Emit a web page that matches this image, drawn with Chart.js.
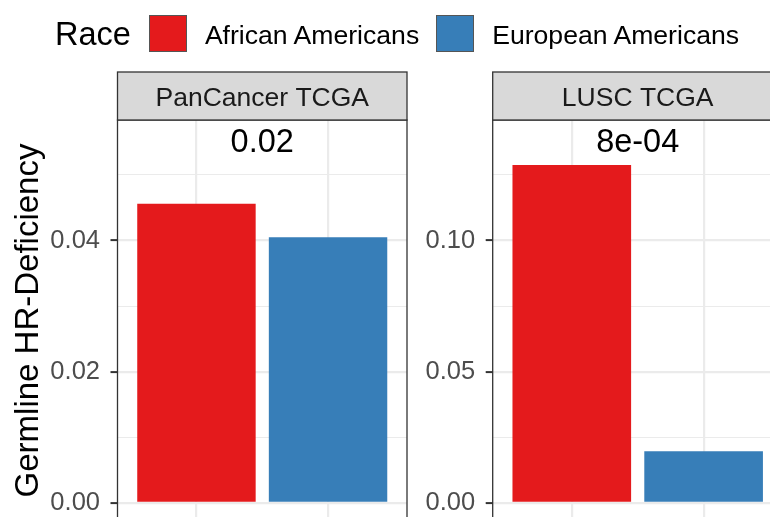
<!DOCTYPE html>
<html>
<head>
<meta charset="utf-8">
<script src="https://cdn.jsdelivr.net/npm/chart.js@4.4.1/dist/chart.umd.min.js"></script>
<style>
  html, body { margin: 0; padding: 0; background: #fff; }
  #wrap { position: relative; width: 770px; height: 517px; overflow: hidden; background: #fff;
          font-family: 'Liberation Sans', Arial, Helvetica, sans-serif; }
  #legend { position: absolute; left: 55px; top: 15px; height: 37px; display: flex; align-items: center; white-space: nowrap; }
  #legend .ttl { font-size: 32.5px; color: #000; margin-right: 18px; position: relative; top: 1px; }
  #legend .key { width: 38px; height: 37px; box-sizing: border-box; border: 1px solid #555; margin-right: 18px; }
  #legend .lab { font-size: 26.6px; color: #000; margin-right: 17px; position: relative; top: 2px; }
  #boxA { position: absolute; left: 0; top: 0; }
  #boxB { position: absolute; left: 410px; top: 0; }
</style>
</head>
<body>
<div id="wrap">
  <canvas id="boxA" width="415" height="560"></canvas>
  <canvas id="boxB" width="400" height="560"></canvas>
  <div id="legend"></div>
</div>
<script>
// Germline HR-deficiency rate by race, two facets
const races = ['African Americans', 'European Americans'];
const raceColors = ['#E41A1C', '#377EB8'];
const panels = ['PanCancer TCGA', 'LUSC TCGA'];
const panCancerHRD = [0.0456, 0.0405];
const luscHRD = [0.1288, 0.0196];
const pValues = ['0.02', '8e-04'];
const pLabelY = [0.0556, 0.139];
const panCancerTicks = ['0.00', '0.02', '0.04'];
const luscTicks = ['0.00', '0.05', '0.10'];

const FONT = "'Liberation Sans', Arial, Helvetica, sans-serif";

// legend
const legend = document.getElementById('legend');
legend.innerHTML = '<span class="ttl">Race</span>' + races.map((r, i) =>
  `<span class="key" style="background:${raceColors[i]}"></span><span class="lab">${r}</span>`).join('');

// facet strip, panel border and p-value label
const facetPlugin = {
  id: 'facet',
  afterDraw(chart, args, o) {
    const { ctx, chartArea: a, scales } = chart;
    const w = a.right - a.left;
    ctx.save();
    ctx.font = `32.5px ${FONT}`;
    ctx.fillStyle = '#000';
    ctx.textAlign = 'center';
    ctx.textBaseline = 'alphabetic';
    ctx.fillText(o.pValue, scales.x.getPixelForValue(1.5), scales.y.getPixelForValue(o.labelY) + 13.7);

    ctx.strokeStyle = '#333333';
    ctx.lineWidth = 1.3;
    ctx.strokeRect(a.left, a.top, w, a.bottom - a.top);

    const h = 48;
    ctx.fillStyle = '#D9D9D9';
    ctx.fillRect(a.left, a.top - h, w, h);
    ctx.strokeRect(a.left, a.top - h, w, h);
    ctx.fillStyle = '#1A1A1A';
    ctx.font = `26.5px ${FONT}`;
    ctx.fillText(o.strip, a.left + w / 2, a.top - 14);
    ctx.restore();
  }
};

function makeChart(id, values, tickLabels, labelY, strip, pValue, showTitle, yWidth, padRight) {
  const majors = tickLabels.map(Number);
  const step = majors[1] - majors[0];
  const tickVals = [];
  for (let i = 0; i < majors.length * 2; i++) tickVals.push(+(i * step / 2).toFixed(5));

  return new Chart(document.getElementById(id), {
    type: 'bar',
    data: {
      datasets: [{
        label: 'Germline HR-Deficiency',
        data: races.map((r, i) => ({ x: i + 1, y: values[i] })),
        backgroundColor: raceColors,
        borderWidth: 0,
        barPercentage: 0.9,
        categoryPercentage: 1.0
      }]
    },
    options: {
      responsive: false,
      animation: false,
      layout: { autoPadding: false, padding: { left: 0, top: 120, right: padRight, bottom: 39 } },
      plugins: {
        legend: { display: false },
        tooltip: { enabled: false },
        facet: { strip, pValue, labelY }
      },
      scales: {
        x: {
          type: 'linear',
          min: 0.4,
          max: 2.6,
          offset: false,
          border: { display: false },
          ticks: { display: false },
          grid: { color: '#EBEBEB', lineWidth: 2.2, drawTicks: false, offset: false },
          afterBuildTicks: s => { s.ticks = [{ value: 1 }, { value: 2 }]; },
          afterFit: s => { s.height = 0; }
        },
        y: {
          min: -0.05 * labelY,
          max: 1.05 * labelY,
          border: { display: false },
          afterBuildTicks: s => { s.ticks = tickVals.map(v => ({ value: v })); },
          afterFit: s => { s.width = yWidth; },
          ticks: {
            autoSkip: false,
            padding: 10.5,
            color: '#4D4D4D',
            font: { family: FONT, size: 25.5 },
            callback: (v, i) => (i % 2 === 0 ? tickLabels[i / 2] : '')
          },
          grid: {
            color: '#EBEBEB',
            lineWidth: c => (c.index % 2 === 0 ? 2.2 : 1.1),
            drawTicks: true,
            tickLength: 7,
            tickWidth: 2,
            tickColor: c => (c.index % 2 === 0 ? '#333333' : 'rgba(0,0,0,0)')
          },
          title: {
            display: showTitle,
            text: 'Germline HR-Deficiency',
            color: '#000',
            font: { family: FONT, size: 33 },
            padding: { top: 9, bottom: 0 }
          }
        }
      }
    },
    plugins: [facetPlugin]
  });
}

makeChart('boxA', panCancerHRD, panCancerTicks, pLabelY[0], panels[0], pValues[0], true, 117.5, 8);
makeChart('boxB', luscHRD, luscTicks, pLabelY[1], panels[1], pValues[1], false, 82.7, 27.3);
</script>
</body>
</html>
